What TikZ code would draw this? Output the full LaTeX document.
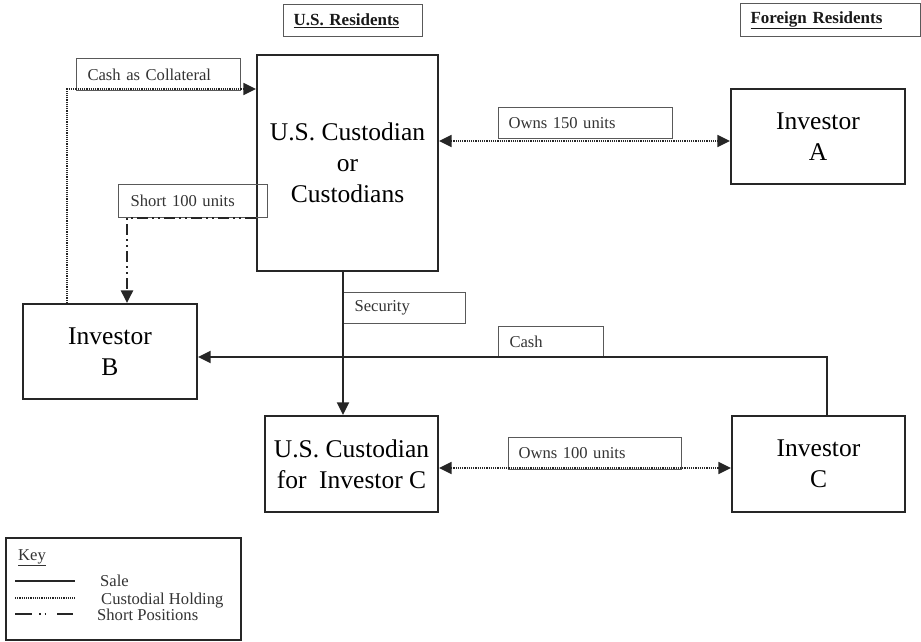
\documentclass[tikz,border=0pt]{standalone}
\usepackage{fontspec}
\setmainfont{Liberation Serif}
\usetikzlibrary{arrows.meta}
\begin{document}
\begin{tikzpicture}[x=1pt,y=-1pt,
  mainbox/.style={draw=black!85, line width=2.2pt, inner sep=0pt, align=center,
    font=\fontsize{25.5}{31}\selectfont},
  lbl/.style={draw=black!65, line width=1.1pt, anchor=north west, inner xsep=11pt, inner ysep=0pt,
    text width=#1, align=left, font=\fontsize{16.6}{18}\selectfont, text=black!80},
  hdr/.style={font=\fontsize{17}{18}\selectfont\bfseries, text=black!90},
  sale/.style={draw=black!85, line width=2pt},
  hold/.style={draw=black!85, line width=1.6pt, dash pattern=on 1.2pt off 1pt},
  shortpos/.style={draw=black!85, line width=2.4pt, dash pattern=on 11pt off 4pt on 2pt off 4pt on 2pt off 4pt},
  tip/.style={-{Triangle[length=12.5pt,width=12pt]}},
  tips/.style={{Triangle[length=12.5pt,width=12pt]}-{Triangle[length=12.5pt,width=12pt]}},
  keytxt/.style={anchor=base west, inner sep=0pt, font=\fontsize{16.6}{18}\selectfont, text=black!80}
]
\useasboundingbox (0,0) rectangle (921,641);

% headers
\node[lbl=119pt, hdr, minimum height=32pt, inner xsep=10pt, text width=119pt] (usres) at (283,4) {\underline{U.S. Residents}};
\node[lbl=160pt, hdr, minimum height=33pt, inner xsep=10pt, text width=160pt] (forres) at (740,3) {\underline{Foreign Residents}};

% main boxes
\node[mainbox, minimum width=181pt, minimum height=216pt] (cust) at (347.5,163) {U.S. Custodian\\or\\Custodians};
\node[mainbox, minimum width=174pt, minimum height=95pt] (invA) at (818,136.5) {Investor\\A};
\node[mainbox, minimum width=174pt, minimum height=95pt] (invB) at (110,351.5) {Investor\\B};
\node[mainbox, minimum width=173pt, minimum height=96pt] (custC) at (351.5,464) {U.S. Custodian\\for\ \ Investor C};
\node[mainbox, minimum width=173pt, minimum height=96pt] (invC) at (818.5,464) {Investor\\C};

% label boxes
\node[lbl=142pt, minimum height=32pt] (lcoll) at (76,58) {Cash as Collateral};
\node[lbl=126pt, minimum height=33pt, inner xsep=12pt, text width=125pt] (lshort) at (118,184) {Short 100 units};
\node[lbl=154pt, minimum height=31pt, inner xsep=10pt, text width=154pt] (lo150) at (498,107) {Owns 150 units};
\node[lbl=100pt, minimum height=31pt] (lsec) at (343,292) {Security};
\node[lbl=83pt, minimum height=31pt] (lcash) at (498,326) {Cash};
\node[lbl=153pt, minimum height=32pt, inner xsep=10pt, text width=153pt] (lo100) at (508,437) {Owns 100 units};

% coordinates for bends
\coordinate (collx) at (67,89);
\coordinate (shortc) at (127,218);
\coordinate (o150y) at (600,141);
\coordinate (o100y) at (600,468);

% connectors
\draw[hold, tip] (invB.north -| collx) |- (cust.west |- collx);
\draw[shortpos, tip] (cust.west |- shortc) -| (invB.north -| shortc);
\draw[hold, tips] (cust.east |- o150y) -- (invA.west |- o150y);
\draw[hold, tips] (custC.east |- o100y) -- (invC.west |- o100y);
\draw[sale, tip] (cust.south -| lsec.west) -- (custC.north -| lsec.west);
\draw[sale, tip] ([xshift=8.5pt]invC.north) |- ([yshift=-5.5pt]invB.east);

% key
\node[draw=black!85, line width=1.8pt, anchor=north west, minimum width=235pt, minimum height=102pt, inner sep=0pt] (key) at (5,537) {};
\node[keytxt] (keyt) at (18,560) {\underline{Key}};
\coordinate (k1a) at (15,581); \coordinate (k1b) at (75,581);
\coordinate (k2a) at (15,598); \coordinate (k2b) at (75,598);
\coordinate (k3a) at (15,614); \coordinate (k3b) at (73,614);
\draw[sale] (k1a) -- (k1b);
\draw[hold, line width=1.3pt] (k2a) -- (k2b);
\draw[draw=black!85, line width=2.2pt, dash pattern=on 17pt off 7pt on 1.5pt off 4pt on 1.5pt off 11pt on 20pt] (k3a) -- (k3b);
\node[keytxt] (ksale) at (100,586) {Sale};
\node[keytxt] (khold) at (101,604) {Custodial Holding};
\node[keytxt] (kshort) at (97,620) {Short Positions};
\end{tikzpicture}
\end{document}
